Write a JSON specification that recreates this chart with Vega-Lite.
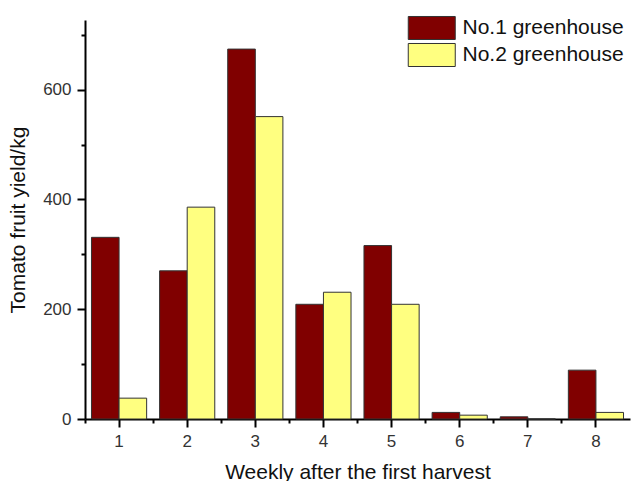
{
  "$schema": "https://vega.github.io/schema/vega-lite/v6.json",
  "width": 545,
  "height": 399,
  "autosize": {"type": "none"},
  "padding": {"left": 85, "top": 20, "right": 2, "bottom": 62},
  "background": "white",
  "config": {
    "view": {"stroke": null},
    "font": "Liberation Sans",
    "axis": {"grid": false}
  },
  "data": {
    "values": [
      {"week": "1", "house": "No.1 greenhouse", "yield": 331},
      {"week": "1", "house": "No.2 greenhouse", "yield": 38},
      {"week": "2", "house": "No.1 greenhouse", "yield": 270},
      {"week": "2", "house": "No.2 greenhouse", "yield": 386},
      {"week": "3", "house": "No.1 greenhouse", "yield": 674},
      {"week": "3", "house": "No.2 greenhouse", "yield": 551},
      {"week": "4", "house": "No.1 greenhouse", "yield": 209},
      {"week": "4", "house": "No.2 greenhouse", "yield": 231},
      {"week": "5", "house": "No.1 greenhouse", "yield": 316},
      {"week": "5", "house": "No.2 greenhouse", "yield": 209},
      {"week": "6", "house": "No.1 greenhouse", "yield": 12},
      {"week": "6", "house": "No.2 greenhouse", "yield": 7},
      {"week": "7", "house": "No.1 greenhouse", "yield": 4},
      {"week": "7", "house": "No.2 greenhouse", "yield": 0},
      {"week": "8", "house": "No.1 greenhouse", "yield": 89},
      {"week": "8", "house": "No.2 greenhouse", "yield": 12}
    ]
  },
  "resolve": {"axis": {"x": "independent"}},
  "layer": [
    {
      "mark": {"type": "bar", "stroke": "#333333", "strokeWidth": 1},
      "encoding": {
        "x": {
          "field": "week",
          "type": "ordinal",
          "scale": {"paddingInner": 0.19, "paddingOuter": 0.095},
          "axis": {
            "orient": "bottom",
            "labelAngle": 0,
            "title": "Weekly after the first harvest",
            "titleFontSize": 21,
            "titleFontWeight": "normal",
            "titleColor": "#111111",
            "titlePadding": 12,
            "labelFontSize": 17,
            "labelColor": "#333333",
            "labelPadding": 6,
            "tickSize": 8,
            "tickWidth": 2,
            "tickColor": "#000000",
            "domainColor": "#000000",
            "domainWidth": 2
          }
        },
        "xOffset": {"field": "house", "type": "nominal"},
        "y": {
          "field": "yield",
          "type": "quantitative",
          "scale": {"domain": [0, 727], "nice": false},
          "axis": {
            "values": [0, 100, 200, 300, 400, 500, 600, 700],
            "labelExpr": "datum.value % 200 === 0 ? datum.label : ''",
            "title": "Tomato fruit yield/kg",
            "titleFontSize": 21,
            "titleFontWeight": "normal",
            "titleColor": "#111111",
            "titlePadding": 14,
            "labelFontSize": 17,
            "labelColor": "#333333",
            "labelPadding": 6,
            "tickSize": {"condition": {"test": "datum.value % 200 === 0", "value": 8}, "value": 4},
            "tickWidth": 2,
            "tickColor": "#000000",
            "domainColor": "#000000",
            "domainWidth": 2
          }
        },
        "color": {
          "field": "house",
          "type": "nominal",
          "scale": {"domain": ["No.1 greenhouse", "No.2 greenhouse"], "range": ["#800000", "#FFFF80"]},
          "legend": {
            "orient": "none",
            "legendX": 334.25,
            "legendY": -4.5,
            "title": null,
            "symbolType": "M-2,-0.98H2V0.98H-2Z",
            "symbolSize": 552.25,
            "symbolStrokeColor": "#333333",
            "symbolStrokeWidth": 1,
            "symbolOpacity": 1,
            "labelFontSize": 21,
            "labelColor": "#111111",
            "labelOffset": 18.25,
            "labelLimit": 400,
            "rowPadding": -2.5
          }
        }
      }
    },
    {
      "mark": {"type": "bar", "opacity": 0},
      "encoding": {
        "x": {
          "field": "week",
          "type": "ordinal",
          "axis": {
            "orient": "bottom",
            "title": null,
            "labels": false,
            "domain": false,
            "bandPosition": -0.117,
            "tickSize": 4,
            "tickWidth": 2,
            "tickColor": "#000000"
          }
        },
        "y": {"datum": 0, "type": "quantitative"}
      }
    }
  ]
}
